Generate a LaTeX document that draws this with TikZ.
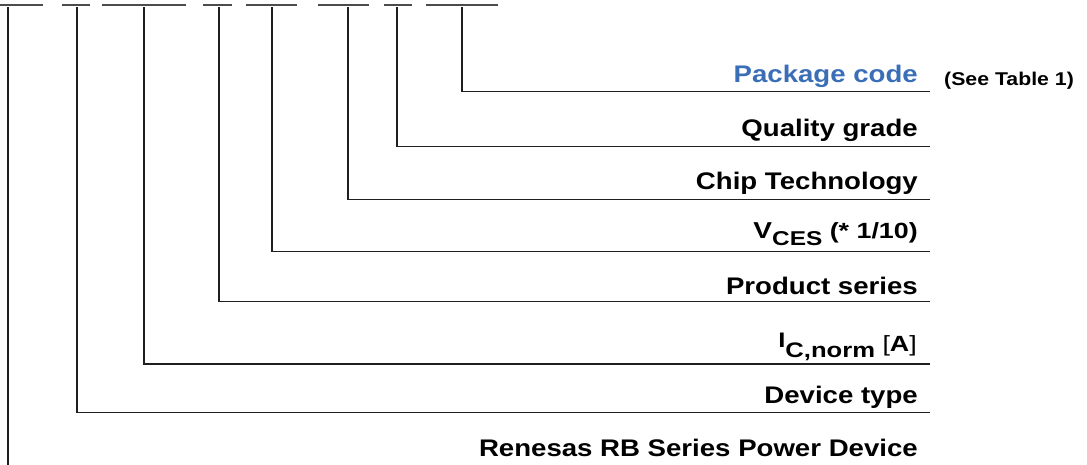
\documentclass[tikz,border=0pt]{standalone}
\usepackage{fontspec}
\newfontfamily\lbl{Liberation Sans}[FakeStretch=1.15]
\newfontfamily\lblw{Liberation Sans}[FakeStretch=1.22]
\newfontfamily\lblm{Liberation Sans}[FakeStretch=1.22]
\definecolor{pkgblue}{RGB}{58,110,183}
\begin{document}
\begin{tikzpicture}[x=1pt,y=-1pt,
  seg/.style={line width=1.3pt, draw=black!70},
  lead/.style={line width=1.2pt, draw=black!88},
  lab/.style={anchor=base east, inner sep=0pt, text=black,
    font=\lbl\bfseries\fontsize{24}{24}\selectfont},
  note/.style={anchor=base west, inner sep=0pt, text=black,
    font=\lbl\bfseries\fontsize{18.5}{18.5}\selectfont}]
\useasboundingbox (0,0) rectangle (1087,464);

% top placeholders
\coordinate (s1a) at (0,5);   \coordinate (s1b) at (43,5);
\coordinate (s2a) at (62,5);  \coordinate (s2b) at (90,5);
\coordinate (s3a) at (102,5); \coordinate (s3b) at (186,5);
\coordinate (s4a) at (203,5); \coordinate (s4b) at (232,5);
\coordinate (s5a) at (246,5); \coordinate (s5b) at (297,5);
\coordinate (s6a) at (318,5); \coordinate (s6b) at (369,5);
\coordinate (s7a) at (384,5); \coordinate (s7b) at (412,5);
\coordinate (s8a) at (426,5); \coordinate (s8b) at (498,5);
\foreach \i in {1,...,8} \draw[seg] (s\i a) -- (s\i b);

% lead tops
\coordinate (t1) at (8,7);
\coordinate (t2) at (77,7);
\coordinate (t3) at (144,7);
\coordinate (t4) at (219,7);
\coordinate (t5) at (272,7);
\coordinate (t6) at (348,7);
\coordinate (t7) at (397,7);
\coordinate (t8) at (462,7);

% lead ends
\coordinate (e1) at (8,468);
\coordinate (e2) at (930,412.7);
\coordinate (e3) at (930,364);
\coordinate (e4) at (930,301.7);
\coordinate (e5) at (930,251.7);
\coordinate (e6) at (930,199.5);
\coordinate (e7) at (930,146.7);
\coordinate (e8) at (930,91.7);

\draw[lead] (t1) -- (e1);
\foreach \i in {2,...,8} \draw[lead] (t\i) |- (e\i);

% labels
\node[lab, text=pkgblue] (pkg) at (918,82.3) {Package code};
\node[note] (see) at (944,85) {(See Table 1)};
\node[lab] (qual) at (918,136.9) {Quality grade};
\node[lab] (chip) at (918,189.8) {Chip Technology};
\node[lab] (vces) at (918,238) {{\lblw\bfseries\fontsize{23}{24}\selectfont V}\raisebox{-7pt}{\lblw\bfseries\fontsize{20}{20}\selectfont CES}{\lblw\bfseries\fontsize{22}{23}\selectfont\ (* 1/10)}};
\node[lab] (prod) at (918,294) {Product series};
\node[lab] (icn) at (917,351) {\lblm\bfseries\fontsize{22}{22}\selectfont\raisebox{4pt}{\fontsize{21}{21}\selectfont I}\raisebox{-6.5pt}{\fontsize{21}{21}\selectfont C,norm}\ {\mdseries[}A{\mdseries]}};
\node[lab] (dev) at (918,403) {Device type};
\node[lab] (ren) at (918,456) {Renesas RB Series Power Device};
\end{tikzpicture}
\end{document}
